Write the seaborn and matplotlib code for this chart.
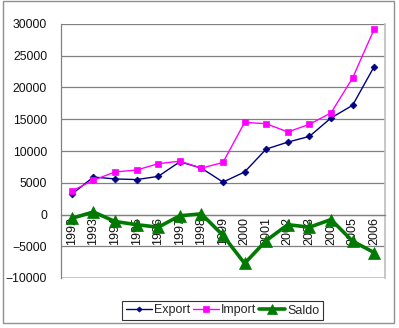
import matplotlib
matplotlib.use("Agg")
import matplotlib.pyplot as plt
from matplotlib.patches import Rectangle
from matplotlib.ticker import MultipleLocator
import numpy as np
import pandas as pd
import seaborn as sns

years = [1992, 1993, 1994, 1995, 1996, 1997, 1998, 1999,
         2000, 2001, 2002, 2003, 2004, 2005, 2006]
export = [3200, 5900, 5600, 5500, 6000, 8300, 7300, 5100,
          6700, 10300, 11400, 12300, 15200, 17200, 23300]
imports = [3700, 5400, 6700, 7000, 8000, 8400, 7300, 8200,
           14500, 14300, 13000, 14200, 16000, 21500, 29200]
saldo = [-600, 400, -1100, -1600, -2000, -200, 100, -3300,
         -7700, -4100, -1600, -2000, -800, -4200, -6000]

df = pd.DataFrame({"Jahr": years, "Export": export, "Import": imports, "Saldo": saldo})
long = df.melt(id_vars="Jahr", var_name="Serie", value_name="Wert")

sns.set_theme(style="white")
plt.rcParams["font.family"] = ["Liberation Sans", "DejaVu Sans"]

fig = plt.figure(figsize=(3.99, 3.28), dpi=100)
ax = fig.add_axes([61 / 399, 1 - 278 / 328, 324 / 399, 254 / 328])

styles = {
    "Export": dict(color="#000080", marker="D", markersize=3.5, linewidth=1.0),
    "Import": dict(color="#FF00FF", marker="s", markersize=5, linewidth=1.0),
    "Saldo": dict(color="#007A00", marker="^", markersize=9, linewidth=2.6),
}
for name, st in styles.items():
    sub = long[long["Serie"] == name]
    sns.lineplot(data=sub, x="Jahr", y="Wert", ax=ax, label=name,
                 color=st["color"], marker=st["marker"], markersize=st["markersize"],
                 linewidth=st["linewidth"], markeredgecolor=st["color"],
                 markeredgewidth=0.5, zorder=3)

ax.set_xlim(years[0] - 0.5, years[-1] + 0.5)
ax.set_ylim(-10000, 30000)
ax.yaxis.set_major_locator(MultipleLocator(5000))
ax.set_xticks(years)
ax.set_xticklabels([str(y) for y in years])
ax.set_xticks(np.arange(years[0] - 0.5, years[-1] + 1, 1), minor=True)
ax.tick_params(axis="x", which="major", length=0, pad=2, labelrotation=90,
               labelsize=9, labelcolor="#111111")
ax.tick_params(axis="x", which="minor", length=3, direction="out", color="#808080", width=0.8)
ax.tick_params(axis="y", which="major", length=4, direction="out", color="#808080",
               width=0.8, labelsize=8.8, pad=6, labelcolor="#111111")
ax.set_xlabel("")
ax.set_ylabel("")

ax.grid(axis="y", color="#808080", linewidth=0.9)
ax.set_axisbelow(True)

ax.spines["bottom"].set_position(("data", 0))
ax.spines["bottom"].set_color("#808080")
ax.spines["bottom"].set_linewidth(0.9)
ax.spines["left"].set_color("#808080")
ax.spines["left"].set_linewidth(0.9)
ax.spines["right"].set_visible(True)
ax.spines["right"].set_color("#c0c0c0")
ax.spines["top"].set_visible(False)
ax.axhline(-10000, color="#c0c0c0", linewidth=1.2, zorder=1)

ax.get_legend().remove()
handles, labels = ax.get_legend_handles_labels()
leg = fig.legend(handles, labels, loc="center", ncol=3,
                 bbox_to_anchor=(222.5 / 399, 1 - 310.5 / 328),
                 fontsize=9, frameon=True, fancybox=False, edgecolor="#000000",
                 handlelength=2.1, handletextpad=0.15, columnspacing=0.2,
                 borderpad=0.3, borderaxespad=0, markerscale=0.75)
leg.get_frame().set_linewidth(0.8)

fig.patches.append(Rectangle((3 / 399, 1 - 323 / 328), 391 / 399, 322 / 328,
                             transform=fig.transFigure, fill=False,
                             edgecolor="#909090", linewidth=1.0))

fig.savefig("out.png", dpi=100)
